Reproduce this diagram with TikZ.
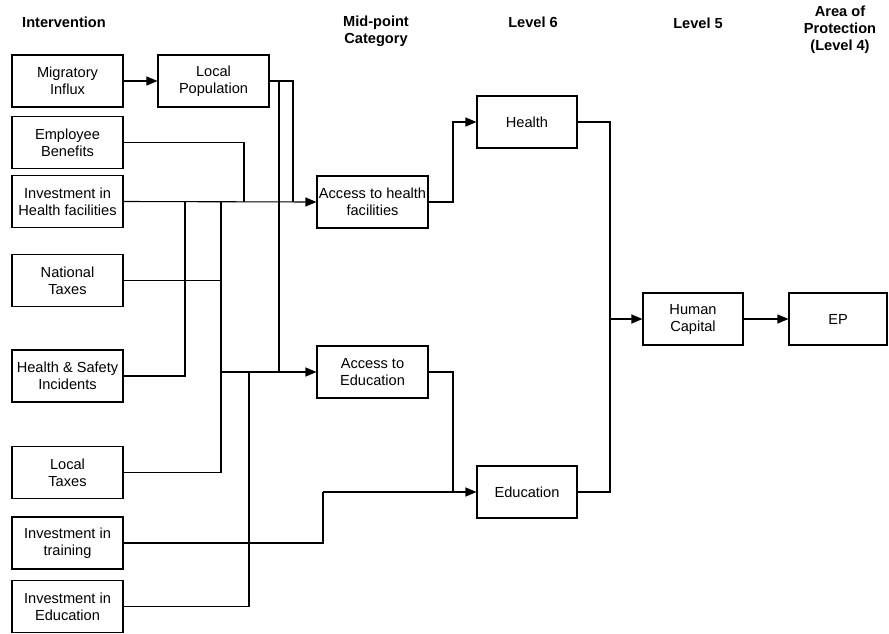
\documentclass[tikz,border=0pt]{standalone}
\usepackage{fontspec}
\setmainfont{Liberation Sans}
\usetikzlibrary{arrows.meta}

\tikzset{
  box/.style={draw, line width=1.1pt, minimum width=111pt, minimum height=52pt,
    inner sep=1pt, align=center, font=\fontsize{14.6}{17}\selectfont},
  smallbox/.style={box, minimum width=100pt},
  head/.style={align=center, font=\fontsize{14.6}{17}\selectfont\bfseries},
  link/.style={line width=1.1pt},
  flow/.style={link, -{Triangle[length=11pt,width=9pt]}}
}

\begin{document}
\begin{tikzpicture}[x=1pt,y=-1pt]
    \useasboundingbox (0,0) rectangle (889,633);

    % column headings
    \node[head] (hInt) at (64,22) {Intervention};
    \node[head] (hMid) at (376,31.5) {Mid-point\\Category};
    \node[head] (hL6) at (533,22) {Level 6};
    \node[head] (hL5) at (698,23) {Level 5};
    \node[head] (hAoP) at (840,29.5) {Area of\\Protection\\(Level 4)};

    % interventions
    \node[box] (MI) at (67.5,81) {Migratory\\Influx};
    \node[box] (LP) at (213.5,81) {Local\\Population};
    \node[box] (EB) at (67.5,142.5) {Employee\\Benefits};
    \node[box] (IH) at (67.5,201.5) {Investment in\\Health facilities};
    \node[box] (NT) at (67.5,280.5) {National\\Taxes};
    \node[box] (HS) at (67.5,376) {Health \& Safety\\Incidents};
    \node[box] (LT) at (67.5,472.5) {Local\\Taxes};
    \node[box] (IT) at (67.5,543) {Investment in\\training};
    \node[box] (IE) at (67.5,606.5) {Investment in\\Education};

    % mid-point, level 6, level 5, area of protection
    \node[box] (AH) at (372.5,202) {Access to health\\facilities};
    \node[box] (AE) at (372.5,372) {Access to\\Education};
    \node[smallbox] (He) at (527,122) {Health};
    \node[smallbox] (Ed) at (527,492) {Education};
    \node[smallbox] (HC) at (693,319) {Human\\Capital};
    \node[smallbox, minimum width=98pt] (EP) at (838,319) {EP};

    % junctions
    \coordinate (J1) at (185,202);
    \coordinate (J2) at (221,202);
    \coordinate (J3) at (244,202);
    \coordinate (J4) at (279,81);
    \coordinate (J5) at (293,81);
    \coordinate (J6) at (221,372);
    \coordinate (J7) at (249,372);
    \coordinate (J8) at (279,372);
    \coordinate (J9) at (323,492);
    \coordinate (J10) at (453,202);
    \coordinate (J11) at (453,492);
    \coordinate (J12) at (610,122);
    \coordinate (J13) at (610,319);

    \draw[flow] (MI) -- (LP);
    \draw[link] (LP.east) -- (J5) -- (J5 |- J1);
    \draw[link] (J4) -- (J8);
    \draw[link] (EB.east) -| (J3);
    \draw[flow] (IH.east) -- (AH.west);
    \draw[link] (NT.east) -| (J2);
    \draw[link] (HS.east) -| (J1);
    \draw[link] (LT.east) -| (J2);
    \draw[flow] (J6) -- (AE.west);
    \draw[link] (IE.east) -| (J7);
    \draw[link] (IT.east) -| (J9);
    \draw[flow] (J9) -- (Ed.west);

    \draw[flow] (AH.east) -- (J10) |- (He.west);
    \draw[link] (AE.east) -| (J11);
    \draw[link] (He.east) -- (J12) |- (Ed.east);
    \draw[flow] (J13) -- (HC.west);
    \draw[flow] (HC) -- (EP);
\end{tikzpicture}
\end{document}
